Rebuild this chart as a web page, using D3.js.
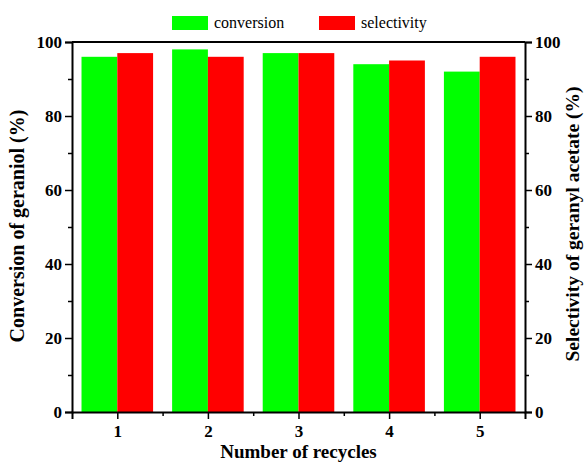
<!DOCTYPE html>
<html><head><meta charset="utf-8">
<script src="https://cdn.jsdelivr.net/npm/d3@7"></script>
<style>body{margin:0;background:#fff}</style>
</head><body>
<svg id="c" width="585" height="462"></svg>
<script>
const categories = ["1","2","3","4","5"];
const conversion = [96, 98, 97, 94, 92];
const selectivity = [97, 96, 97, 95, 96];
const seriesNames = ["conversion","selectivity"];
const colors = ["#00ff00","#ff0000"];
const yTicks = [0,20,40,60,80,100];

const svg = d3.select("#c");
const m = {l:72, r:525, t:42, b:412};
const font = "'Liberation Serif','Times New Roman',serif";

const x = d3.scaleLinear().domain([0.5,5.5]).range([m.l,m.r]);
const y = d3.scaleLinear().domain([0,100]).range([m.b,m.t]);

// bars
const bw = 0.395;
categories.forEach((c,i)=>{
  const xc = +c;
  svg.append("rect").attr("x",x(xc-bw)).attr("width",x(xc)-x(xc-bw))
    .attr("y",y(conversion[i])).attr("height",y(0)-y(conversion[i])).attr("fill",colors[0]);
  svg.append("rect").attr("x",x(xc)).attr("width",x(xc+bw)-x(xc))
    .attr("y",y(selectivity[i])).attr("height",y(0)-y(selectivity[i])).attr("fill",colors[1]);
});

svg.append("line").attr("x1",m.l).attr("x2",m.r).attr("y1",m.t).attr("y2",m.t).attr("stroke","#000").attr("stroke-width",2);

function styleAxis(g){
  g.selectAll("path").attr("stroke","#000").attr("stroke-width",2);
  g.selectAll("line").attr("stroke","#000").attr("stroke-width",1.5);
  g.selectAll("text").attr("font-family",font).attr("font-weight","bold").attr("font-size","17px").attr("fill","#000");
}
function minor(g){ g.select("path").remove(); g.selectAll("line").attr("stroke","#000").attr("stroke-width",1.5); }

const gx = svg.append("g").attr("transform",`translate(0,${m.b})`)
  .call(d3.axisBottom(x).tickValues(categories.map(Number)).tickFormat(d=>d).tickSizeOuter(0).tickSize(7).tickPadding(6));
styleAxis(gx);
svg.append("g").attr("transform",`translate(0,${m.b})`)
  .call(d3.axisBottom(x).tickValues([1.5,2.5,3.5,4.5]).tickFormat("").tickSizeOuter(0).tickSize(4)).call(minor);

const gl = svg.append("g").attr("transform",`translate(${m.l},0)`)
  .call(d3.axisLeft(y).tickValues(yTicks).tickSizeOuter(0).tickSize(7).tickPadding(3));
styleAxis(gl);
svg.append("g").attr("transform",`translate(${m.l},0)`)
  .call(d3.axisLeft(y).tickValues([10,30,50,70,90]).tickFormat("").tickSizeOuter(0).tickSize(4)).call(minor);

const gr = svg.append("g").attr("transform",`translate(${m.r},0)`)
  .call(d3.axisRight(y).tickValues(yTicks).tickSizeOuter(0).tickSize(7).tickPadding(3));
styleAxis(gr);
svg.append("g").attr("transform",`translate(${m.r},0)`)
  .call(d3.axisRight(y).tickValues([10,30,50,70,90]).tickFormat("").tickSizeOuter(0).tickSize(4)).call(minor);

// titles
svg.append("text").attr("x",(m.l+m.r)/2).attr("y",458).attr("text-anchor","middle")
  .attr("font-family",font).attr("font-weight","bold").attr("font-size","19px").text("Number of recycles");
svg.append("text").attr("transform",`translate(24,226) rotate(-90)`).attr("text-anchor","middle")
  .attr("font-family",font).attr("font-weight","bold").attr("font-size","20px").text("Conversion of geraniol (%)");
svg.append("text").attr("transform",`translate(579,224) rotate(-90)`).attr("text-anchor","middle")
  .attr("font-family",font).attr("font-weight","bold").attr("font-size","19.5px").text("Selectivity of geranyl acetate (%)");

// legend
const lg = [{x:172,tx:214},{x:319,tx:361}];
seriesNames.forEach((s,i)=>{
  svg.append("rect").attr("x",lg[i].x).attr("y",16).attr("width",36).attr("height",14).attr("fill",colors[i]);
  svg.append("text").attr("x",lg[i].tx).attr("y",28).attr("font-family",font).attr("font-size","16px").text(s);
});
</script>
</body></html>
